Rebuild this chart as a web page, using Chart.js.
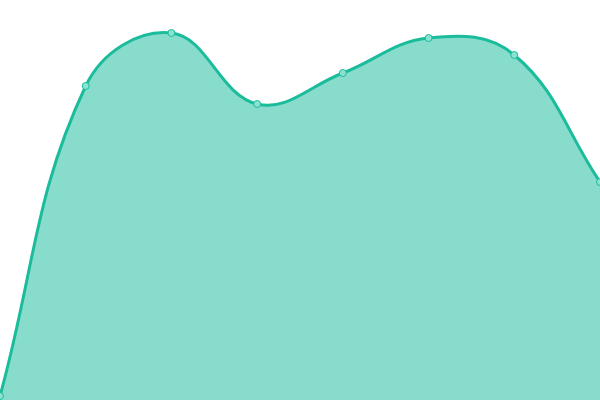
<!DOCTYPE html>
<html>
<head>
<meta charset="utf-8">
<script src="https://cdn.jsdelivr.net/npm/chart.js@4/dist/chart.umd.min.js"></script>
<style>
  html, body { margin: 0; padding: 0; background: #fff; }
  #wrap { width: 600px; height: 400px; }
</style>
</head>
<body>
<div id="wrap"><canvas id="c"></canvas></div>
<script>
// categories and values (scale 0..100, no axes shown)
const labels = ["1", "2", "3", "4", "5", "6", "7", "8"];
const values = [1, 78.5, 91.75, 74, 81.75, 90.5, 86.25, 54.5];

const lineColor = "#1abc9c";
const fillColor = "rgba(26, 188, 156, 0.52)";
const pointFill = "#8ce2d1";

new Chart(document.getElementById("c"), {
  type: "line",
  data: {
    labels,
    datasets: [{
      data: values,
      borderColor: lineColor,
      borderWidth: 3,
      backgroundColor: fillColor,
      fill: "start",
      tension: 0.4,
      pointRadius: 3.5,
      pointBorderWidth: 1,
      pointBackgroundColor: pointFill,
      pointBorderColor: lineColor,
    }],
  },
  options: {
    responsive: true,
    maintainAspectRatio: false,
    animation: false,
    layout: { padding: 0, autoPadding: false },
    plugins: { legend: { display: false }, tooltip: { enabled: false } },
    scales: {
      x: { display: false, offset: false },
      y: { display: false, min: 0, max: 100 },
    },
  },
});
</script>
</body>
</html>
